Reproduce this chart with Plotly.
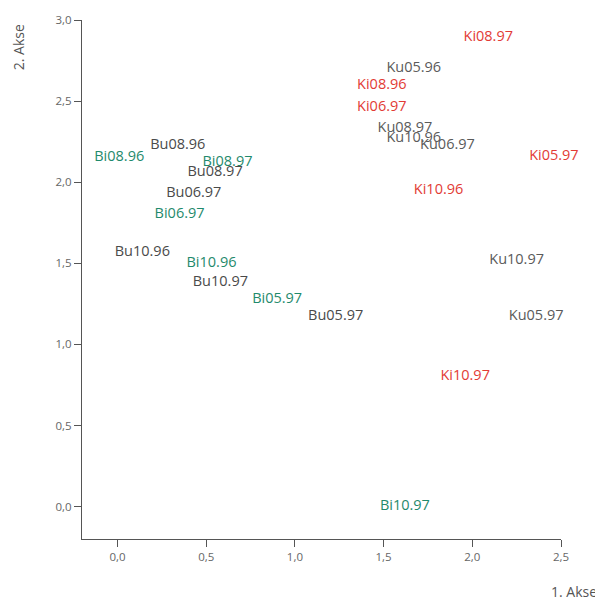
import plotly.graph_objects as go

# Data: (label, x, y) grouped by series
bi_labels = ["Bi08.96", "Bi08.97", "Bi06.97", "Bi10.96", "Bi05.97", "Bi10.97"]
bi_x = [0.01, 0.62, 0.35, 0.53, 0.90, 1.62]
bi_y = [2.15, 2.12, 1.80, 1.50, 1.28, 0.00]

bu_labels = ["Bu08.96", "Bu08.97", "Bu06.97", "Bu10.96", "Bu10.97", "Bu05.97"]
bu_x = [0.34, 0.55, 0.43, 0.14, 0.58, 1.23]
bu_y = [2.23, 2.06, 1.93, 1.57, 1.38, 1.17]

ki_labels = ["Ki08.97", "Ki08.96", "Ki06.97", "Ki05.97", "Ki10.96", "Ki10.97"]
ki_x = [2.09, 1.49, 1.49, 2.46, 1.81, 1.96]
ki_y = [2.89, 2.60, 2.46, 2.16, 1.95, 0.80]

ku_labels = ["Ku05.96", "Ku08.97", "Ku10.96", "Ku06.97", "Ku10.97", "Ku05.97"]
ku_x = [1.67, 1.62, 1.67, 1.86, 2.25, 2.36]
ku_y = [2.70, 2.33, 2.27, 2.23, 1.52, 1.17]

x_ticks = [0.0, 0.5, 1.0, 1.5, 2.0, 2.5]
y_ticks = [0.0, 0.5, 1.0, 1.5, 2.0, 2.5, 3.0]

FONT = "Open Sans"

fig = go.Figure()
for labels, xs, ys, color in [
    (bu_labels, bu_x, bu_y, "#4a4a4a"),
    (ku_labels, ku_x, ku_y, "#5a5a5a"),
    (bi_labels, bi_x, bi_y, "#1f8a6c"),
    (ki_labels, ki_x, ki_y, "#e23b35"),
]:
    fig.add_trace(go.Scatter(
        x=xs, y=ys, text=labels, mode="text",
        textposition="middle center", cliponaxis=False,
        textfont=dict(family=FONT, size=14.5, color=color),
        showlegend=False, hoverinfo="text",
    ))

axis_common = dict(
    showgrid=False, zeroline=False, showline=True, linecolor="#555555", linewidth=1,
    ticks="outside", ticklen=7, tickcolor="#555555", tickwidth=1, automargin=False,
    tickformat=".1f", tickfont=dict(family=FONT, size=11.5, color="#666666"),
)

fig.update_layout(
    width=595, height=593,
    margin=dict(l=74, r=42, t=12, b=62),
    plot_bgcolor="white", paper_bgcolor="white",
    separators=", ",
    xaxis=dict(range=[-0.2, 2.5], tickvals=x_ticks, **axis_common),
    yaxis=dict(range=[-0.2, 3.0], tickvals=y_ticks, **axis_common),
    annotations=[
        dict(text="2. Akse", xref="paper", yref="paper", x=-0.131, y=0.948,
             xanchor="center", yanchor="middle", textangle=-90, showarrow=False,
             font=dict(family=FONT, size=14, color="#555555")),
        dict(text="1. Akse", xref="paper", yref="paper", x=1.08, y=-0.102,
             xanchor="right", yanchor="middle", showarrow=False,
             font=dict(family=FONT, size=14, color="#555555")),
    ],
)

fig.write_html("out.html")
